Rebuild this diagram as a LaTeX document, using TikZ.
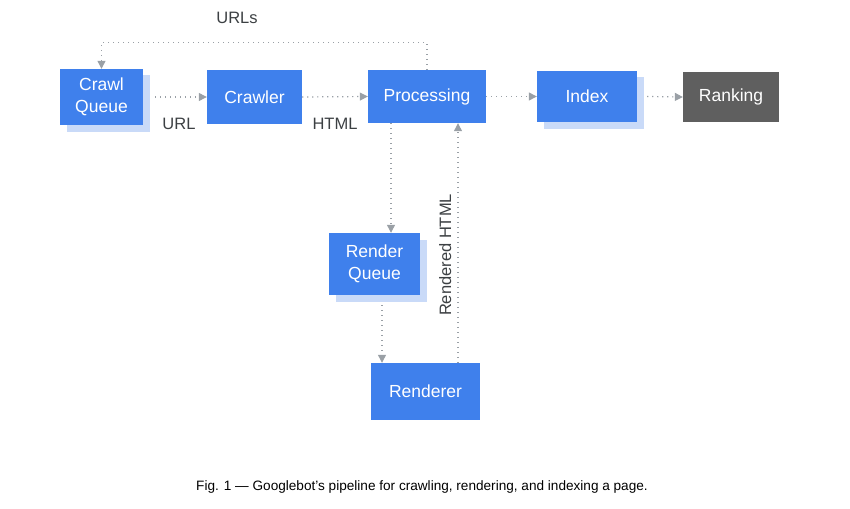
\documentclass[tikz,border=0pt]{standalone}
\usepackage{fontspec}
\setmainfont{Liberation Sans}
\usetikzlibrary{arrows.meta,shadows}
\definecolor{gblue}{HTML}{3F80EC}
\definecolor{gshade}{HTML}{C9DAF8}
\definecolor{ggray}{HTML}{5F5F5F}
\definecolor{gline}{HTML}{9AA0A6}
\definecolor{gtext}{HTML}{3C4043}
\tikzset{
  stage/.style={fill=gblue,text=white,font=\fontsize{17.5}{21.5}\selectfont,align=center,inner sep=0pt},
  stageshadow/.style={stage,general shadow={fill=gshade,shadow xshift=6.5pt,shadow yshift=-6.5pt}},
  flow/.style={draw=gline,line width=1.2pt,dash pattern=on 1.2pt off 3.8pt,-{Triangle[width=8pt,length=8pt]}},
  lbl/.style={text=gtext,font=\fontsize{16.5}{19}\selectfont,inner sep=0pt}
}
\begin{document}
\begin{tikzpicture}[x=1pt,y=-1pt]
  \useasboundingbox (0,0) rectangle (850,508);
  \node [stageshadow,minimum width=83pt,minimum height=56pt] (cq) at (101.5,97) {Crawl\\Queue};
  \node [stage,minimum width=95pt,minimum height=54pt] (crawler) at (254.5,97) {Crawler};
  \node [stage,minimum width=118pt,minimum height=53pt] (proc) at (427,96.5) {Processing};
  \node [stageshadow,minimum width=100pt,minimum height=51pt] (index) at (587,96.5) {Index};
  \node [stage,fill=ggray,minimum width=96pt,minimum height=50pt] (rank) at (731,97) {Ranking};
  \node [stageshadow,minimum width=91pt,minimum height=62pt] (rq) at (374.5,264) {Render\\Queue};
  \node [stage,minimum width=109pt,minimum height=57pt] (rr) at (425.5,391.5) {Renderer};
  % labels
  \node [lbl] (urls) at (237,18) {URLs};
  \node [lbl] (url) at (179,124) {URL};
  \node [lbl] (html) at (335,124) {HTML};
  \node [text=black,font=\fontsize{13.6}{16}\selectfont] (cap) at (422,487)
    {Fig. 1 — Googlebot's pipeline for crawling, rendering, and indexing a page.};
  % connectors
  \draw [flow] (proc.north) -- ++(0,-27) -| (cq.north);
  \draw [flow] ([xshift=12pt]cq.east) -- (crawler.west);
  \draw [flow] (crawler.east) -- (proc.west);
  \draw [flow] (proc.east) -- (index.west);
  \draw [flow] ([xshift=10pt]index.east) -- (rank.west);
  \draw [flow] ([xshift=-36pt]proc.south) -- ([xshift=-36pt]proc.south |- rq.north);
  \draw [flow] ([xshift=7.5pt,yshift=-10pt]rq.south) -- ([xshift=7.5pt]rq.south |- rr.north);
  \draw [flow] ([xshift=32.5pt]rr.north) -- ([xshift=32.5pt]rr.north |- proc.south)
    node [lbl,pos=0.45,sloped,above=6pt] {Rendered HTML};
\end{tikzpicture}
\end{document}
